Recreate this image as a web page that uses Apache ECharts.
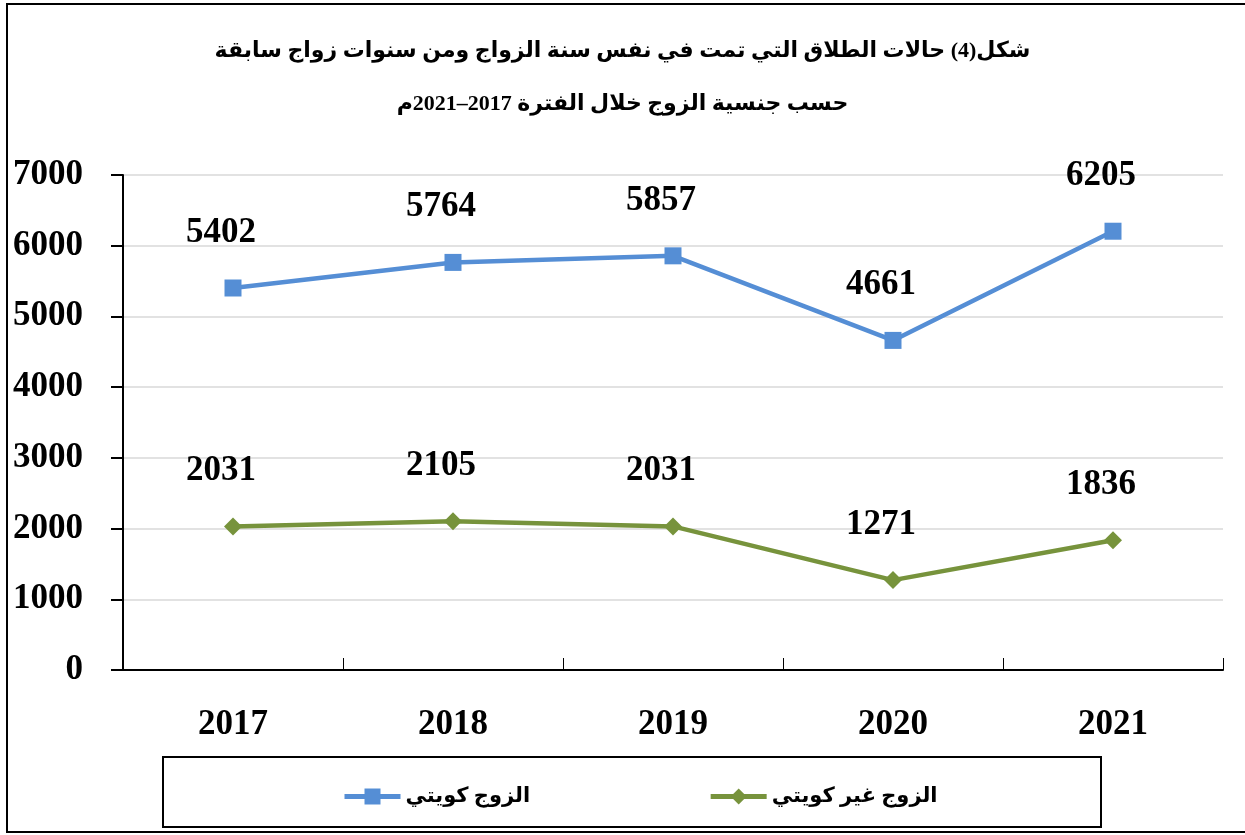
<!DOCTYPE html>
<html dir="rtl">
<head>
<meta charset="utf-8">
<script src="https://cdn.jsdelivr.net/npm/echarts@6/dist/echarts.min.js"></script>
<style>
  html, body { margin: 0; padding: 0; background: #fff; }
  #chart { width: 1245px; height: 835px; }
</style>
</head>
<body>
<div id="chart"></div>
<script>
// السنوات
var years = ['2017', '2018', '2019', '2020', '2021'];
// الزوج كويتي
var kuwaiti = [5402, 5764, 5857, 4661, 6205];
// الزوج غير كويتي
var nonKuwaiti = [2031, 2105, 2031, 1271, 1836];
var seriesNames = ['الزوج كويتي', 'الزوج غير كويتي'];
var titleLines = [
    'شكل(4) حالات الطلاق التي تمت في نفس سنة الزواج ومن سنوات زواج سابقة',
    'حسب جنسية الزوج خلال الفترة 2017–2021م'
];

var chart = echarts.init(document.getElementById('chart'));
var serif = "'Liberation Serif', 'DejaVu Serif', 'DejaVu Sans', serif";

function lineSeries(name, data, color, symbol, size) {
    return {
        name: name,
        type: 'line',
        data: data,
        symbol: symbol,
        symbolSize: size,
        lineStyle: { color: color, width: 4.5 },
        itemStyle: { color: color },
        label: {
            show: true,
            position: 'top',
            distance: 29,
            offset: [-12, 0],
            color: '#000',
            fontFamily: serif,
            fontWeight: 'bold',
            fontSize: 35
        },
        animation: false
    };
}

var option = {
    backgroundColor: '#fff',
    title: {
        text: titleLines.join('\n'),
        left: 'center',
        top: 20,
        textStyle: {
            color: '#000',
            fontFamily: serif,
            fontWeight: 'bold',
            fontSize: 22,
            lineHeight: 53
        }
    },
    graphic: [
        {
            type: 'rect',
            shape: { x: 7, y: 4, width: 1250, height: 828 },
            style: { fill: null, stroke: '#000', lineWidth: 2 }
        },
        {
            type: 'rect',
            shape: { x: 163, y: 757, width: 938, height: 70 },
            style: { fill: null, stroke: '#000', lineWidth: 2 }
        }
    ],
    legend: {
        left: 337,
        top: 781,
        itemWidth: 56,
        itemHeight: 20,
        itemGap: 178,
        data: seriesNames,
        lineStyle: { width: 5 },
        textStyle: {
            color: '#000',
            fontFamily: serif,
            fontWeight: 'bold',
            fontSize: 21
        }
    },
    grid: { left: 123, right: 22, top: 175, bottom: 165 },
    xAxis: {
        type: 'category',
        data: years,
        boundaryGap: true,
        axisLine: { lineStyle: { color: '#000', width: 2 } },
        axisTick: { show: true, inside: true, length: 12, lineStyle: { color: '#000', width: 1 } },
        axisLabel: {
            margin: 37,
            color: '#000',
            fontFamily: serif,
            fontWeight: 'bold',
            fontSize: 35
        }
    },
    yAxis: {
        type: 'value',
        min: 0,
        max: 7000,
        interval: 1000,
        axisLine: { show: true, lineStyle: { color: '#000', width: 2 } },
        axisTick: { show: true, length: 12, lineStyle: { color: '#000', width: 2 } },
        axisLabel: {
            margin: 40,
            color: '#000',
            fontFamily: serif,
            fontWeight: 'bold',
            fontSize: 35,
            formatter: function (v) { return String(v); }
        },
        splitLine: { lineStyle: { color: '#d9d9d9', width: 1.5 } }
    },
    series: [
        lineSeries(seriesNames[0], kuwaiti, '#558ed5', 'rect', 17),
        lineSeries(seriesNames[1], nonKuwaiti, '#77933c', 'diamond', [18, 18])
    ]
};

chart.setOption(option);
window.addEventListener('resize', function () {
    chart.resize();
});
</script>
</body>
</html>
